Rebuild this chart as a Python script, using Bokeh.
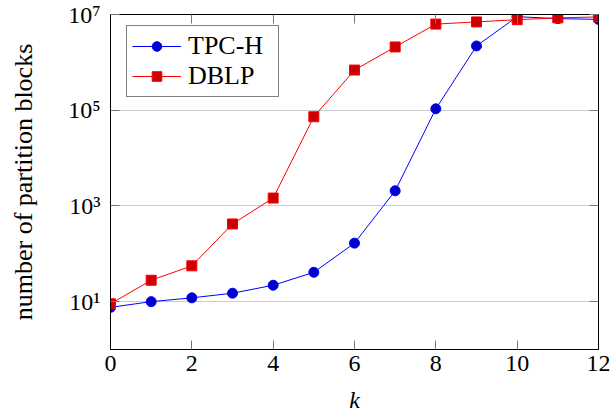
from bokeh.plotting import figure
from bokeh.models import FixedTicker, LinearAxis, LogAxis, Legend, LegendItem
from bokeh.embed import file_html
from bokeh.resources import INLINE

k = [0, 1, 2, 3, 4, 5, 6, 7, 8, 9, 10, 11, 12]
tpch = [7.6, 10, 12, 15, 22, 41, 167, 2070, 1.07e5, 2.2e6, 9.0e6, 8.2e6, 7.9e6]
dblp = [9, 28, 56, 420, 1460, 7.3e4, 6.9e5, 2.1e6, 6.3e6, 7.0e6, 7.8e6, 8.5e6, 8.9e6]
x_ticks = [0, 2, 4, 6, 8, 10, 12]
y_ticks = [10, 1000, 100000, 10000000]
y_tick_labels = ["10¹", "10³", "10⁵", "10⁷"]

FONT = "Liberation Serif"

p = figure(width=610, height=418, y_axis_type="log",
           x_range=(0, 12), y_range=(1, 1e7),
           output_backend="svg", toolbar_location=None,
           min_border_left=110, min_border_right=12,
           min_border_top=14, min_border_bottom=69)

p.background_fill_color = "white"
p.border_fill_color = "white"
p.outline_line_color = "black"
p.outline_line_width = 1

# grid
p.xgrid.grid_line_color = None
p.ygrid.grid_line_color = "#cccccc"
p.ygrid.grid_line_width = 1
p.ygrid.ticker = FixedTicker(ticks=y_ticks)

def style_axis(ax):
    ax.axis_line_color = "black"
    ax.axis_line_width = 1
    ax.major_tick_in = 9
    ax.major_tick_out = 0
    ax.major_tick_line_color = "#777777"
    ax.major_tick_line_width = 1
    ax.minor_tick_line_color = None
    ax.major_label_text_font = FONT
    ax.major_label_text_font_size = "24px"
    ax.major_label_text_color = "black"
    ax.axis_label_text_font = FONT
    ax.axis_label_text_font_size = "24px"
    ax.axis_label_text_color = "black"
    ax.axis_label_text_font_style = "normal"

xa = p.xaxis[0]
xa.ticker = FixedTicker(ticks=x_ticks)
style_axis(xa)
xa.major_label_standoff = 6
xa.axis_label = "k"
xa.axis_label_text_font_style = "italic"
xa.axis_label_standoff = 13

ya = p.yaxis[0]
ya.ticker = FixedTicker(ticks=y_ticks)
style_axis(ya)
ya.major_label_overrides = {t: s for t, s in zip(y_ticks, y_tick_labels)}
ya.major_label_standoff = 10
ya.axis_label = "number of partition blocks"
ya.axis_label_text_font_size = "26px"
ya.axis_label_standoff = 27

# mirrored ticks (top and right), labels not drawn
top = LinearAxis(ticker=FixedTicker(ticks=x_ticks))
style_axis(top)
top.major_label_text_font_size = "1px"
top.major_label_text_color = None
top.major_label_standoff = 0
p.add_layout(top, "above")

right = LogAxis(ticker=FixedTicker(ticks=y_ticks))
style_axis(right)
right.major_label_text_font_size = "1px"
right.major_label_text_color = None
right.major_label_standoff = 0
p.add_layout(right, "right")

# series
l1 = p.line(k, tpch, line_color="#0000ff", line_width=1)
s1 = p.scatter(k, tpch, marker="circle", size=10, fill_color="#0000cc", line_color="#0000ff", line_width=1)
l2 = p.line(k, dblp, line_color="#ff0000", line_width=1)
s2 = p.scatter(k, dblp, marker="square", size=10, fill_color="#cc0000", line_color="#ff0000", line_width=1)

legend = Legend(items=[LegendItem(label="TPC-H", renderers=[l1, s1]),
                       LegendItem(label="DBLP", renderers=[l2, s2])],
                location=(16, 252))
legend.margin = 0
legend.padding = 5
legend.spacing = 0
legend.glyph_width = 49
legend.glyph_height = 24
legend.label_height = 24
legend.label_width = 85
legend.label_standoff = 7
legend.label_text_font = FONT
legend.label_text_font_size = "26px"
legend.label_text_color = "black"
legend.border_line_color = "black"
legend.border_line_width = 1
legend.background_fill_color = "white"
legend.background_fill_alpha = 1
p.add_layout(legend, "center")

open("out.html", "w").write(file_html(p, INLINE))
